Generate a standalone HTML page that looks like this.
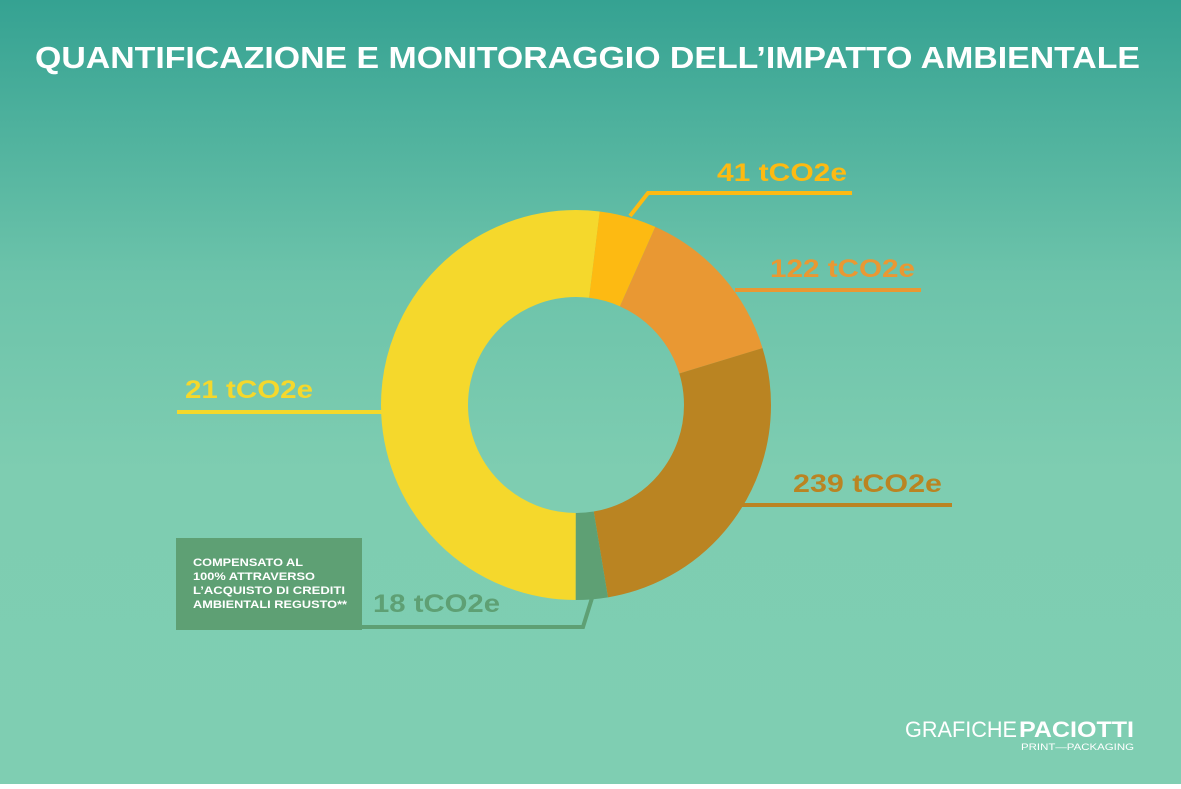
<!DOCTYPE html>
<html><head><meta charset="utf-8"><style>
html,body{margin:0;padding:0}
body{width:1181px;height:784px;overflow:hidden}
</style></head><body>
<svg width="1181" height="784" viewBox="0 0 1181 784" xmlns="http://www.w3.org/2000/svg" font-family="Liberation Sans, sans-serif">
<defs>
<linearGradient id="bg" x1="0" y1="0" x2="0" y2="1">
<stop offset="0" stop-color="#35a292"/>
<stop offset="0.35" stop-color="#6cc3aa"/>
<stop offset="0.6" stop-color="#7ecdb1"/>
<stop offset="1" stop-color="#7fceb2"/>
</linearGradient>
</defs>
<rect width="1181" height="784" fill="url(#bg)"/>
<text x="35" y="68" font-size="31" font-weight="bold" fill="#fff" textLength="1105" lengthAdjust="spacingAndGlyphs">QUANTIFICAZIONE E MONITORAGGIO DELL’IMPATTO AMBIENTALE</text>

<g transform="rotate(-90 576 405)" fill="none" stroke-width="87">
<circle cx="576" cy="405" r="151.5" stroke="#f5d82c" stroke-dasharray="494.5 1000" stroke-dashoffset="-475.9"/>
<circle cx="576" cy="405" r="151.5" stroke="#f5d82c" stroke-dasharray="18.6 1000" stroke-dashoffset="0"/>
<circle cx="576" cy="405" r="151.5" stroke="#fdba12" stroke-dasharray="45 1000" stroke-dashoffset="-18.5"/>
<circle cx="576" cy="405" r="151.5" stroke="#e99833" stroke-dasharray="129.6 1000" stroke-dashoffset="-63.5"/>
<circle cx="576" cy="405" r="151.5" stroke="#ba8422" stroke-dasharray="257.8 1000" stroke-dashoffset="-193"/>
<circle cx="576" cy="405" r="151.5" stroke="#5ea074" stroke-dasharray="25.2 1000" stroke-dashoffset="-450.8"/>
</g>

<g fill="none" stroke-width="4">
<polyline points="630,216 648,193 852,193" stroke="#fdba12"/>
<line x1="735" y1="290" x2="921" y2="290" stroke="#e99833"/>
<line x1="740" y1="505" x2="952" y2="505" stroke="#ba8422"/>
<line x1="177" y1="412" x2="382" y2="412" stroke="#f5d82c"/>
<polyline points="362,627 583,627 592,598" stroke="#5ea074"/>
</g>

<g font-weight="bold" font-size="25">
<text x="717" y="181" fill="#fdba12" textLength="130" lengthAdjust="spacingAndGlyphs">41 tCO2e</text>
<text x="770" y="277" fill="#e99833" textLength="145" lengthAdjust="spacingAndGlyphs">122 tCO2e</text>
<text x="793" y="492" fill="#ba8422" textLength="149" lengthAdjust="spacingAndGlyphs">239 tCO2e</text>
<text x="185" y="398" fill="#f5d82c" textLength="128" lengthAdjust="spacingAndGlyphs">21 tCO2e</text>
<text x="373" y="612" fill="#5ea074" textLength="127" lengthAdjust="spacingAndGlyphs">18 tCO2e</text>
</g>

<rect x="176" y="538" width="186" height="92" fill="#5ea074"/>
<g font-weight="bold" font-size="11" fill="#fff">
<text x="193" y="566" textLength="110" lengthAdjust="spacingAndGlyphs">COMPENSATO AL</text>
<text x="193" y="580" textLength="122" lengthAdjust="spacingAndGlyphs">100% ATTRAVERSO</text>
<text x="193" y="594" textLength="152" lengthAdjust="spacingAndGlyphs">L’ACQUISTO DI CREDITI</text>
<text x="193" y="608" textLength="154" lengthAdjust="spacingAndGlyphs">AMBIENTALI REGUSTO**</text>
</g>

<text x="905" y="737" font-size="22" fill="#fff" textLength="112" lengthAdjust="spacingAndGlyphs">GRAFICHE</text>
<text x="1019" y="737" font-size="22" font-weight="bold" fill="#fff" textLength="115" lengthAdjust="spacingAndGlyphs">PACIOTTI</text>
<text x="1021" y="750" font-size="9" fill="#fff" textLength="113" lengthAdjust="spacingAndGlyphs">PRINT—PACKAGING</text>
</svg>
</body></html>
